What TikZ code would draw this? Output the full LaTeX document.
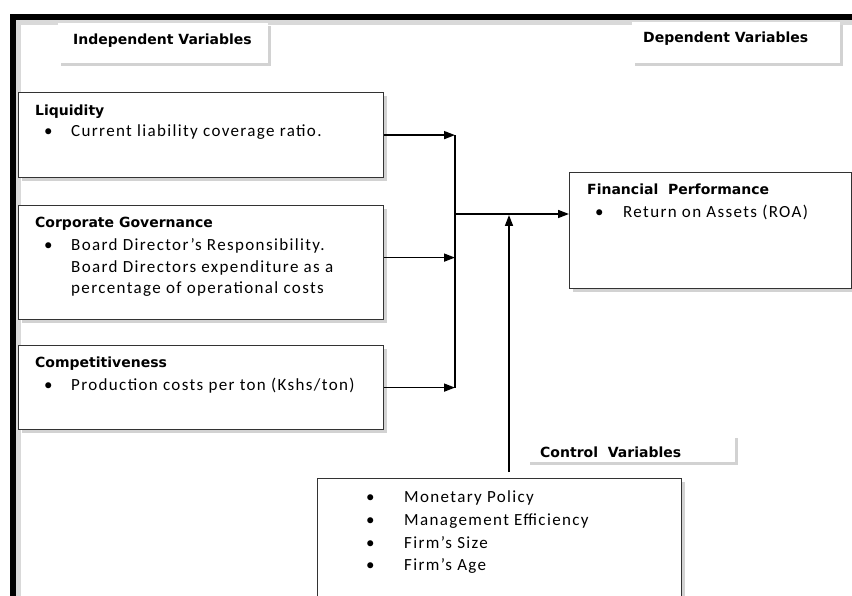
\documentclass[tikz,border=0pt]{standalone}
\usepackage{fontspec}
\setmainfont{Carlito}[LetterSpace=8]
\newfontfamily\headfont{DejaVu Sans}
\usetikzlibrary{shadows,arrows.meta}

\tikzset{
  box/.style={draw=black!80, line width=1.2pt, fill=white, anchor=north west, inner sep=0pt,
    drop shadow={shadow xshift=3pt, shadow yshift=-3pt, fill=black!35, opacity=.5}},
  tag/.style={fill=white, anchor=north west, inner sep=0pt,
    drop shadow={shadow xshift=3pt, shadow yshift=-3pt, fill=black!35, opacity=.5}},
  head/.style={anchor=base west, inner sep=0pt, font=\headfont\bfseries\fontsize{14}{16}\selectfont},
  body/.style={anchor=base west, inner sep=0pt, font=\fontsize{17}{20}\selectfont},
  link/.style={line width=1.6pt, -{Triangle[length=11pt,width=8pt]}}
}

\begin{document}
\begin{tikzpicture}[x=1pt, y=-1pt]
  \useasboundingbox (0,0) rectangle (852,596);
  \clip (0,0) rectangle (852,596);
  \fill[white] (0,0) rectangle (852,596);

  % frame
  \draw[line width=6pt, black!15] (18,600) -- (18,22) -- (852,22);
  \draw[line width=6pt] (13,600) -- (13,17) -- (852,17);

  % headings
  \node[tag, minimum width=210pt, minimum height=40pt] (ind) at (58,23) {};
  \node[head] (indt) at (73,45) {Independent Variables};
  \node[tag, minimum width=208pt, minimum height=41pt] (dep) at (632,22) {};
  \node[head] (dept) at (643,43) {Dependent Variables};

  % independent variables
  \node[box, minimum width=365pt, minimum height=85pt] (liq) at (18,92) {};
  \node[head] (liqa) at (35,116) {Liquidity};
  \node[body] (liqb) at (44,137) {\textbullet};
  \node[body] (liqc) at (71,137) {Current liability coverage ratio.};

  \node[box, minimum width=365pt, minimum height=114pt] (gov) at (18,205) {};
  \node[head] (gova) at (35,228) {Corporate\ Governance};
  \node[body] (govb) at (44,251) {\textbullet};
  \node[body] (govc) at (71,251) {Board Director’s Responsibility.};
  \node[body] (govd) at (71,273) {Board Directors expenditure as a};
  \node[body] (gove) at (71,294) {percentage of operational costs};

  \node[box, minimum width=365pt, minimum height=84pt] (comp) at (18,345) {};
  \node[head] (compa) at (35,367) {Competitiveness};
  \node[body] (compb) at (44,390) {\textbullet};
  \node[body] (compc) at (71,390) {Production costs per ton (Kshs/ton)};

  % dependent variable
  \node[box, minimum width=282pt, minimum height=116pt] (fin) at (569,172) {};
  \node[head] (fina) at (587,195) {Financial\ \ Performance};
  \node[body] (finb) at (595,218) {\textbullet};
  \node[body] (finc) at (623,218) {Return on Assets (ROA)};

  % control variables
  \node[tag, minimum width=208pt, minimum height=27pt] (ctl) at (527,435) {};
  \node[head] (ctlt) at (540,457) {Control\ \ Variables};
  \node[box, minimum width=364pt, minimum height=140pt] (ctrl) at (317,478) {};
  \node[body] (ctra) at (366,502) {\textbullet};
  \node[body] (ctrb) at (404,502) {Monetary Policy};
  \node[body] (ctrc) at (366,525) {\textbullet};
  \node[body] (ctrd) at (404,525) {Management Efficiency};
  \node[body] (ctre) at (366,548) {\textbullet};
  \node[body] (ctrf) at (404,548) {Firm’s Size};
  \node[body] (ctrg) at (366,570) {\textbullet};
  \node[body] (ctrh) at (404,570) {Firm’s Age};

  % connectors
  \coordinate (J) at (455,214);
  \coordinate (K) at (509,215);
  \draw[link] (liq.east) -- (liq.east -| J);
  \draw[link] ([yshift=5pt]gov.east) -- ([yshift=5pt]gov.east -| J);
  \draw[link] (comp.east) -- (comp.east -| J);
  \draw[line width=1.6pt] (liq.east -| J) -- (comp.east -| J);
  \draw[link] (J) -- (J -| fin.west);
  \draw[link, shorten <=6pt] (ctrl.north -| K) -- (K);
\end{tikzpicture}
\end{document}
